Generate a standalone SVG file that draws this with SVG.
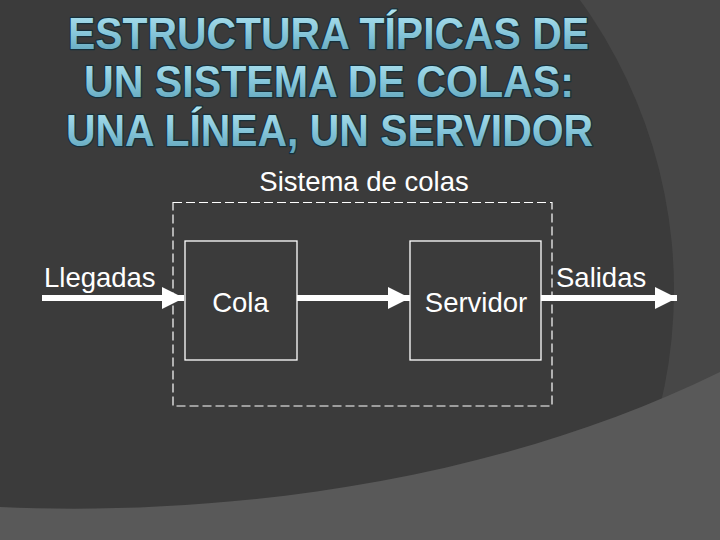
<svg xmlns="http://www.w3.org/2000/svg" width="720" height="540" viewBox="0 0 720 540">
  <defs>
    <linearGradient id="tg" x1="0" y1="0" x2="0" y2="1">
      <stop offset="0" stop-color="#b4e6f2"/>
      <stop offset="0.5" stop-color="#86c6da"/>
      <stop offset="1" stop-color="#5a9fb6"/>
    </linearGradient>
    <marker id="ah" viewBox="0 0 22 22" refX="22" refY="11" markerWidth="22" markerHeight="22" markerUnits="userSpaceOnUse" orient="auto">
      <path d="M0,0 L22,11 L0,22 Z" fill="#ffffff"/>
    </marker>
    <style>
      .title { font-family: "Liberation Sans", Arial, sans-serif; font-weight: bold; font-size: 45px; fill: url(#tg); stroke: #16303b; stroke-width: 2.6; paint-order: stroke; stroke-linejoin: round; }
      .lbl { font-family: "Liberation Sans", Arial, sans-serif; font-size: 27.5px; fill: #ffffff; }
      .box { fill: none; stroke: #ffffff; stroke-width: 1.3; }
      .sys { fill: none; stroke: #ffffff; stroke-width: 1.2; stroke-dasharray: 9 4; }
      .arrow { fill: none; stroke: #ffffff; stroke-width: 6; marker-end: url(#ah); }
    </style>
  </defs>

  <!-- background -->
  <rect x="0" y="0" width="720" height="540" fill="#474747"/>
  <circle cx="180" cy="290" r="494" fill="#3b3b3b"/>
  <path d="M0,507 C200,516 480,490 720,372 L720,540 L0,540 Z" fill="#595959"/>

  <!-- title -->
  <g id="title">
    <text class="title" x="68" y="49" textLength="521" lengthAdjust="spacingAndGlyphs">ESTRUCTURA TÍPICAS DE</text>
    <text class="title" x="84" y="97" textLength="490" lengthAdjust="spacingAndGlyphs">UN SISTEMA DE COLAS:</text>
    <text class="title" x="66" y="146" textLength="527" lengthAdjust="spacingAndGlyphs">UNA LÍNEA, UN SERVIDOR</text>
  </g>

  <!-- system boundary -->
  <g id="sistema">
    <rect class="sys" x="173" y="202.5" width="379" height="203.5"/>
    <text class="lbl" x="364" y="191" text-anchor="middle">Sistema de colas</text>
  </g>

  <g id="cola">
    <rect class="box" x="185" y="241" width="112" height="119"/>
    <text class="lbl" x="240.5" y="312" text-anchor="middle">Cola</text>
  </g>

  <g id="servidor">
    <rect class="box" x="410" y="241" width="131" height="119"/>
    <text class="lbl" x="476" y="312" text-anchor="middle">Servidor</text>
  </g>

  <g id="llegadas">
    <text class="lbl" x="44" y="287">Llegadas</text>
  </g>

  <g id="salidas">
    <text class="lbl" x="556" y="287">Salidas</text>
  </g>

  <g id="connectors">
    <line class="arrow" x1="42" y1="298" x2="184" y2="298"/>
    <line class="arrow" x1="297" y1="298" x2="410" y2="298"/>
    <line class="arrow" x1="541" y1="298" x2="677" y2="298"/>
  </g>
</svg>
